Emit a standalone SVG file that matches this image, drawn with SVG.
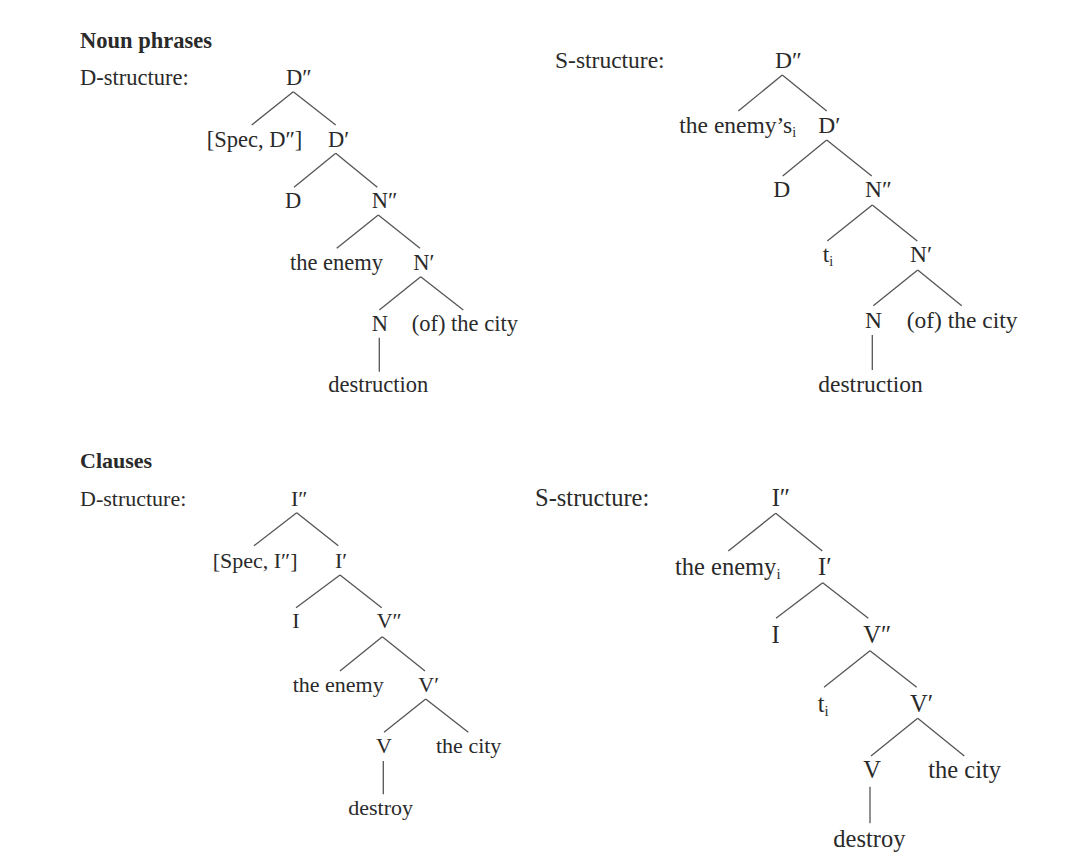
<svg xmlns="http://www.w3.org/2000/svg" width="1080" height="867" viewBox="0 0 1080 867">
<style>
text{font-family:"Liberation Serif","Times New Roman",serif;fill:#2a2a2a}
.h{font-weight:bold}
.a{font-size:22.5px}
.b{font-size:23.5px}
.c{font-size:22px}
.d{font-size:24.5px}
.sub{font-size:60%}
#connectors line{stroke:#555;stroke-width:1.3;fill:none}
</style>
<rect width="1080" height="867" fill="#fff"/>
<g id="connectors">
<line x1="293.3" y1="91.7" x2="251.7" y2="125"/><line x1="293.3" y1="91.7" x2="335.7" y2="125"/>
<line x1="335.7" y1="153.3" x2="294" y2="187.3"/><line x1="335.7" y1="153.3" x2="377.3" y2="187.3"/>
<line x1="378.3" y1="215" x2="336.7" y2="248.3"/><line x1="378.3" y1="215" x2="420" y2="248.3"/>
<line x1="420.7" y1="276.7" x2="379.3" y2="310"/><line x1="420.7" y1="276.7" x2="463.3" y2="310"/>
<line x1="379.3" y1="337.7" x2="379.3" y2="371.7"/>
<line x1="782.3" y1="75" x2="738.3" y2="111"/><line x1="782.3" y1="75" x2="826.7" y2="111"/>
<line x1="826.7" y1="140" x2="782.7" y2="176"/><line x1="826.7" y1="140" x2="871.7" y2="176"/>
<line x1="872.3" y1="205" x2="827.3" y2="241"/><line x1="872.3" y1="205" x2="917.3" y2="241"/>
<line x1="917.7" y1="270" x2="873.3" y2="305.7"/><line x1="917.7" y1="270" x2="961.7" y2="305.7"/>
<line x1="872.3" y1="335" x2="872.3" y2="370"/>
<line x1="296.7" y1="512.7" x2="254" y2="545.7"/><line x1="296.7" y1="512.7" x2="338.3" y2="545.7"/>
<line x1="340" y1="575" x2="296" y2="607.7"/><line x1="340" y1="575" x2="381.7" y2="607.7"/>
<line x1="382.3" y1="636.7" x2="340" y2="671"/><line x1="382.3" y1="636.7" x2="425" y2="671"/>
<line x1="425.7" y1="699" x2="384" y2="732.3"/><line x1="425.7" y1="699" x2="468.3" y2="732.3"/>
<line x1="383.3" y1="761" x2="383.3" y2="794.3"/>
<line x1="775.7" y1="513.3" x2="728.3" y2="551"/><line x1="775.7" y1="513.3" x2="822.3" y2="551"/>
<line x1="822.7" y1="582.7" x2="776" y2="618.3"/><line x1="822.7" y1="582.7" x2="868.3" y2="618.3"/>
<line x1="870" y1="650.7" x2="824" y2="687.3"/><line x1="870" y1="650.7" x2="916.7" y2="687.3"/>
<line x1="917.7" y1="718.3" x2="871" y2="756"/><line x1="917.7" y1="718.3" x2="964.3" y2="756"/>
<line x1="870" y1="786.7" x2="870" y2="823.3"/>
</g>
<g id="labels">
<text class="a h" x="80" y="48">Noun phrases</text>
<text class="a" x="80" y="85">D-structure:</text>
<text class="b" x="555" y="68">S-structure:</text>
<text class="c h" x="80" y="468">Clauses</text>
<text class="c" x="80" y="506">D-structure:</text>
<text class="d" x="535" y="506">S-structure:</text>
</g>
<g id="np-d">
<g id="np-d-Dpp"><text class="a" x="286" y="85">D″</text></g>
<g id="np-d-spec"><text class="a" x="206.7" y="147">[Spec, D″]</text></g>
<g id="np-d-Dp"><text class="a" x="328" y="147">D′</text></g>
<g id="np-d-D"><text class="a" x="285" y="208">D</text></g>
<g id="np-d-Npp"><text class="a" x="371.7" y="208">N″</text></g>
<g id="np-d-enemy"><text class="a" x="290" y="270">the enemy</text></g>
<g id="np-d-Np"><text class="a" x="413.3" y="270">N′</text></g>
<g id="np-d-N"><text class="a" x="371.7" y="331">N</text></g>
<g id="np-d-city"><text class="a" x="411.7" y="331">(of) the city</text></g>
<g id="np-d-destruction"><text class="a" x="328.3" y="392">destruction</text></g>
</g>
<g id="np-s">
<g id="np-s-Dpp"><text class="b" x="775" y="68">D″</text></g>
<g id="np-s-enemys"><text class="b" x="679.3" y="133.3">the enemy’s<tspan class="sub" dy="4">i</tspan></text></g>
<g id="np-s-Dp"><text class="b" x="818.3" y="133.3">D′</text></g>
<g id="np-s-D"><text class="b" x="773.3" y="197.3">D</text></g>
<g id="np-s-Npp"><text class="b" x="865" y="197.3">N″</text></g>
<g id="np-s-t"><text class="b" x="822.7" y="261.7">t<tspan class="sub" dy="4">i</tspan></text></g>
<g id="np-s-Np"><text class="b" x="910" y="261.7">N′</text></g>
<g id="np-s-N"><text class="b" x="865" y="328.3">N</text></g>
<g id="np-s-city"><text class="b" x="906.7" y="328.3">(of) the city</text></g>
<g id="np-s-destruction"><text class="b" x="818.3" y="391.7">destruction</text></g>
</g>
<g id="cl-d">
<g id="cl-d-Ipp"><text class="c" x="291" y="506">I″</text></g>
<g id="cl-d-spec"><text class="c" x="212.7" y="567.7">[Spec, I″]</text></g>
<g id="cl-d-Ip"><text class="c" x="335" y="567.7">I′</text></g>
<g id="cl-d-I"><text class="c" x="292.3" y="628.3">I</text></g>
<g id="cl-d-Vpp"><text class="c" x="376.7" y="628.3">V″</text></g>
<g id="cl-d-enemy"><text class="c" x="292.7" y="691.7">the enemy</text></g>
<g id="cl-d-Vp"><text class="c" x="418.3" y="691.7">V′</text></g>
<g id="cl-d-V"><text class="c" x="376" y="753.3">V</text></g>
<g id="cl-d-city"><text class="c" x="436" y="753.3">the city</text></g>
<g id="cl-d-destroy"><text class="c" x="348.3" y="815">destroy</text></g>
</g>
<g id="cl-s">
<g id="cl-s-Ipp"><text class="d" x="771.7" y="506">I″</text></g>
<g id="cl-s-enemy"><text class="d" x="675" y="575">the enemy<tspan class="sub" dy="4">i</tspan></text></g>
<g id="cl-s-Ip"><text class="d" x="818" y="575">I′</text></g>
<g id="cl-s-I"><text class="d" x="771.5" y="642.7">I</text></g>
<g id="cl-s-Vpp"><text class="d" x="863.3" y="642.7">V″</text></g>
<g id="cl-s-t"><text class="d" x="817.7" y="711.7">t<tspan class="sub" dy="4">i</tspan></text></g>
<g id="cl-s-Vp"><text class="d" x="910" y="711.7">V′</text></g>
<g id="cl-s-V"><text class="d" x="863.3" y="778.3">V</text></g>
<g id="cl-s-city"><text class="d" x="928.3" y="778.3">the city</text></g>
<g id="cl-s-destroy"><text class="d" x="833.3" y="846.7">destroy</text></g>
</g>
</svg>
